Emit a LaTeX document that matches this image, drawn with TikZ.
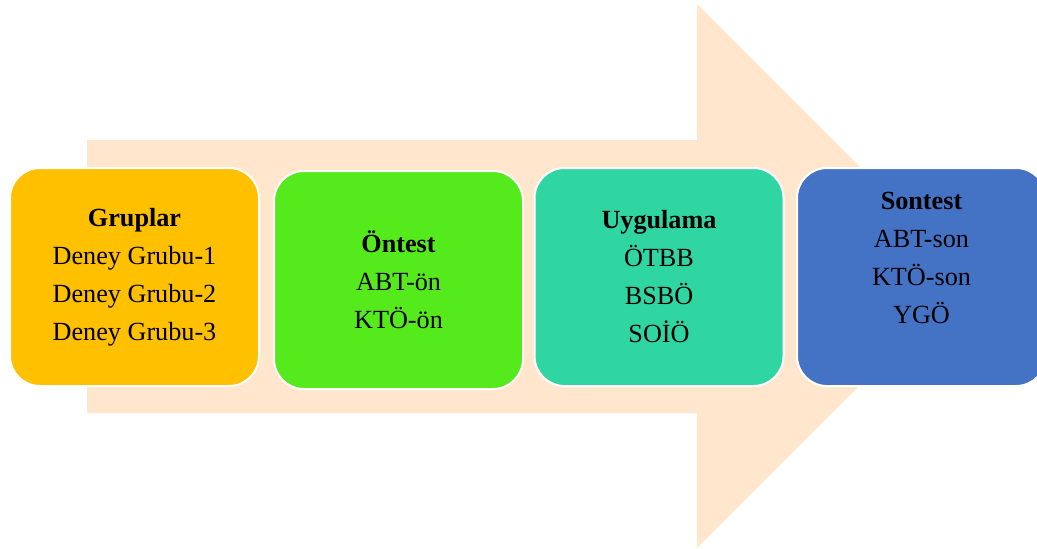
\documentclass[tikz,border=0pt]{standalone}
\usepackage{fontspec}
\setmainfont{Liberation Serif}
\usepackage{xcolor}
\definecolor{peach}{HTML}{FFE6CC}
\definecolor{gold}{HTML}{FFC000}
\definecolor{lime}{HTML}{55EA1C}
\definecolor{mint}{HTML}{2FD6A1}
\definecolor{steel}{HTML}{4472C4}

\begin{document}
\begin{tikzpicture}
[
x=0.5pt, y=-0.5pt,
stagebox/.style={rectangle, draw=white, line width=1pt, minimum width=124.5pt, minimum height=109pt, rounded corners=15pt, align=center, inner sep=0pt, font=\fontsize{13.1}{19}\selectfont},
]
\useasboundingbox (0,0) rectangle (1037,548);
% big arrow behind
\fill[peach] (87,140) -- (697,140) -- (697,4) -- (969,276) -- (697,548) -- (697,413) -- (87,413) -- cycle;

\node at (134.5,277) [stagebox, fill=gold]  (gruplar)  {\textbf{Gruplar}\\Deney Grubu-1\\Deney Grubu-2\\Deney Grubu-3};
\node at (398.5,280) [stagebox, fill=lime]  (ontest)   {\textbf{Öntest}\\ABT-ön\\KTÖ-ön};
\node at (659,277)   [stagebox, fill=mint]  (uygulama) {\textbf{Uygulama}\\ÖTBB\\BSBÖ\\SOİÖ};
\node at (921.5,277) [stagebox, fill=steel] (sontest)  {\textbf{Sontest}\\ABT-son\\KTÖ-son\\YGÖ\\~};
\end{tikzpicture}
\end{document}
